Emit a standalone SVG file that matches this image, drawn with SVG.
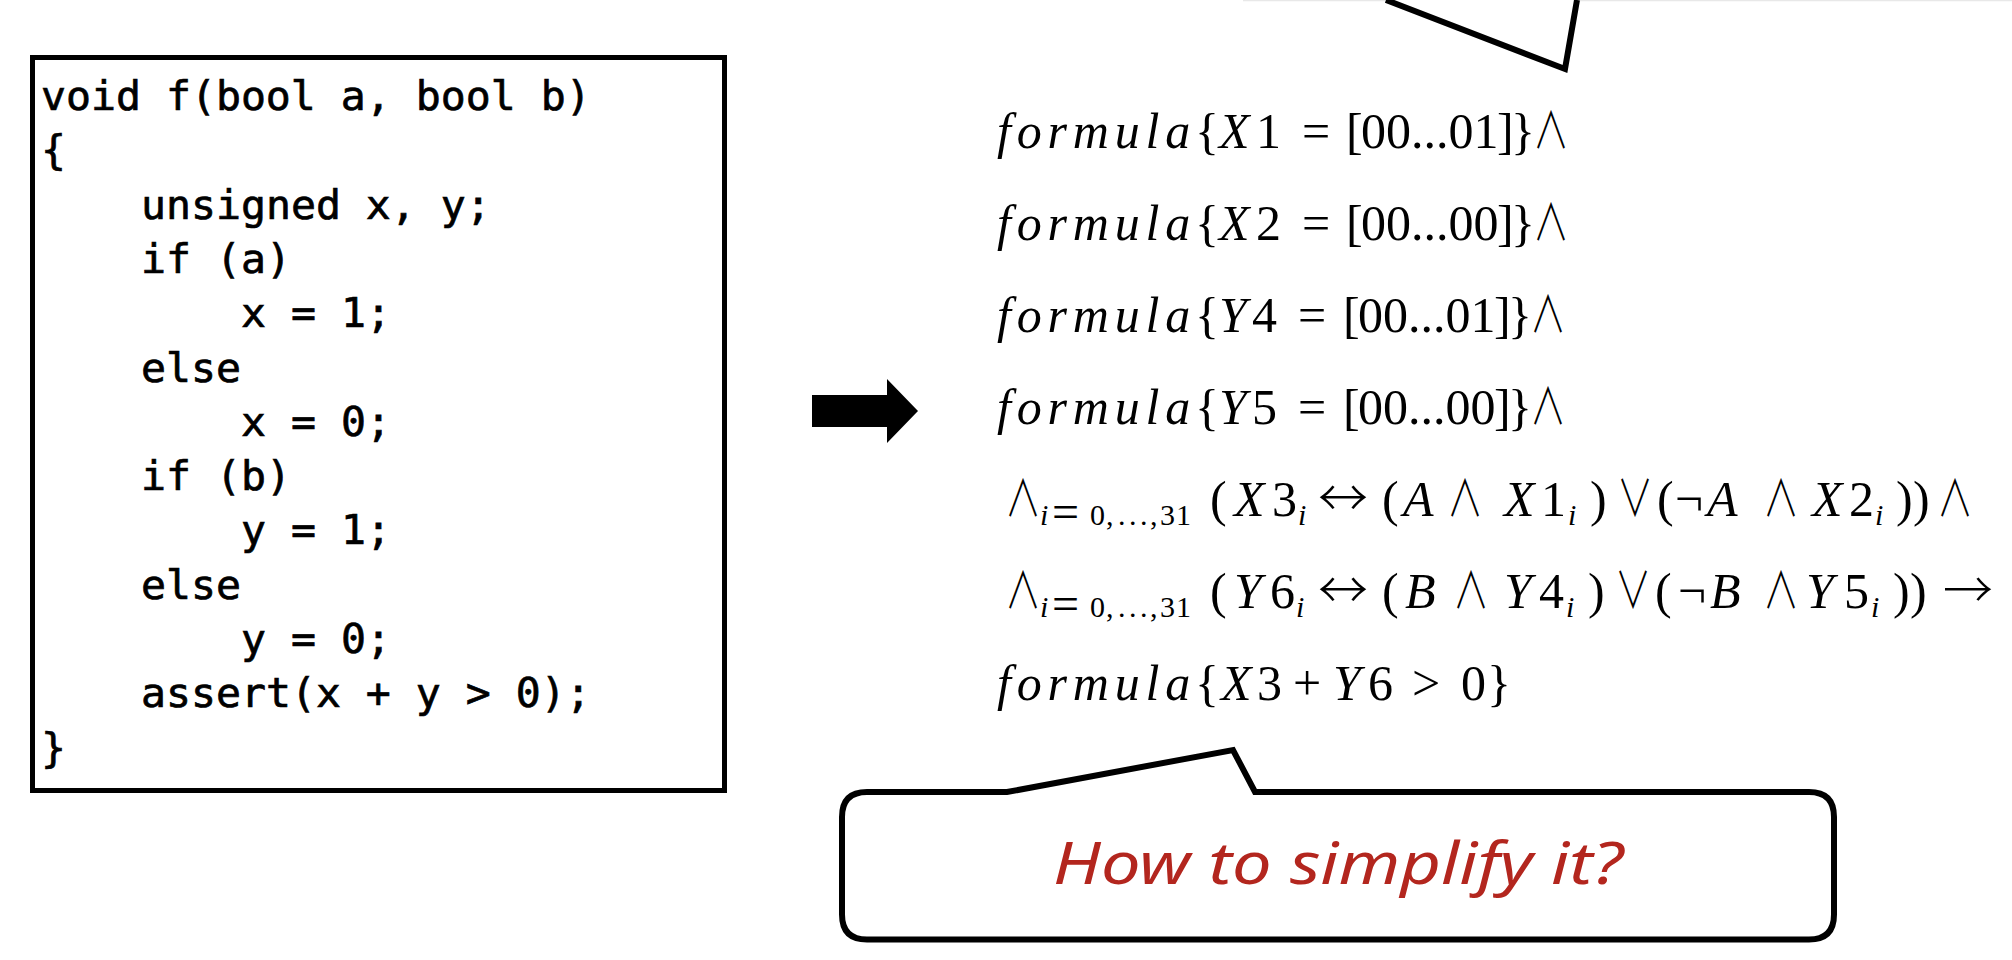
<svg xmlns="http://www.w3.org/2000/svg" width="2012" height="960" viewBox="0 0 2012 960">
<style>
.code{font-family:"DejaVu Sans Mono","Liberation Mono",monospace;font-size:41.5px;fill:#000;stroke:#000;stroke-width:0.7}
.m{font-family:"Liberation Serif","DejaVu Serif",serif;font-size:50px;fill:#000}
.it{font-style:italic}
.fm{font-style:italic;letter-spacing:5.8px}
.op{font-family:"Noto Sans CJK SC","DejaVu Sans",sans-serif;font-weight:300}
.sub{font-size:30px}
.subeq{font-size:48px}
.frame{fill:#fff;stroke:#000;stroke-width:5}
.bubble{fill:#fff;stroke:#000;stroke-width:6;stroke-linejoin:miter}
.q{font-family:"Noto Sans","DejaVu Sans",sans-serif;font-style:italic;font-size:58px;fill:#B3261E}
</style>
<rect width="2012" height="960" fill="#fff"/>

<g id="top-callout">
  <line x1="1243" y1="0.5" x2="2012" y2="0.5" stroke="#e8e8e8" stroke-width="1.5"/>
  <polyline points="1386,0 1565,69 1577,0" fill="#fff" stroke="#000" stroke-width="6"/>
</g>

<g id="code-node">
  <rect class="frame" x="32.5" y="57.5" width="692" height="733"/>
  <text class="code" x="41" y="110">void f(bool a, bool b)</text>
  <text class="code" x="41" y="164.3">{</text>
  <text class="code" x="141" y="218.6">unsigned x, y;</text>
  <text class="code" x="141" y="272.9">if (a)</text>
  <text class="code" x="241" y="327.2">x = 1;</text>
  <text class="code" x="141" y="381.5">else</text>
  <text class="code" x="241" y="435.8">x = 0;</text>
  <text class="code" x="141" y="490.1">if (b)</text>
  <text class="code" x="241" y="544.4">y = 1;</text>
  <text class="code" x="141" y="598.7">else</text>
  <text class="code" x="241" y="653">y = 0;</text>
  <text class="code" x="141" y="707.3">assert(x + y &gt; 0);</text>
  <text class="code" x="41" y="761.6">}</text>
</g>

<g id="connectors">
  <polygon points="812,395 887,395 887,379 918,411 887,443 887,427 812,427" fill="#000"/>
</g>

<g id="formula-node">
  <text class="m" y="148"><tspan class="fm" x="997">formula</tspan><tspan x="1195">{</tspan><tspan class="it" x="1219">X</tspan><tspan x="1256">1</tspan><tspan x="1302">=</tspan><tspan x="1346">[</tspan><tspan x="1361">00...01</tspan><tspan x="1497">]</tspan><tspan x="1511">}</tspan></text>
  <text class="m op" transform="translate(1533,148) scale(0.72,1)">∧</text>

  <text class="m" y="240"><tspan class="fm" x="997">formula</tspan><tspan x="1195">{</tspan><tspan class="it" x="1219">X</tspan><tspan x="1256">2</tspan><tspan x="1302">=</tspan><tspan x="1346">[</tspan><tspan x="1361">00...00</tspan><tspan x="1497">]</tspan><tspan x="1511">}</tspan></text>
  <text class="m op" transform="translate(1533,240) scale(0.72,1)">∧</text>

  <text class="m" y="332"><tspan class="fm" x="997">formula</tspan><tspan x="1195">{</tspan><tspan class="it" x="1219">Y</tspan><tspan x="1252">4</tspan><tspan x="1298">=</tspan><tspan x="1343">[</tspan><tspan x="1358">00...01</tspan><tspan x="1494">]</tspan><tspan x="1508">}</tspan></text>
  <text class="m op" transform="translate(1530,332) scale(0.72,1)">∧</text>

  <text class="m" y="424"><tspan class="fm" x="997">formula</tspan><tspan x="1195">{</tspan><tspan class="it" x="1219">Y</tspan><tspan x="1252">5</tspan><tspan x="1298">=</tspan><tspan x="1343">[</tspan><tspan x="1358">00...00</tspan><tspan x="1494">]</tspan><tspan x="1508">}</tspan></text>
  <text class="m op" transform="translate(1530,424) scale(0.72,1)">∧</text>

  <text class="m op" transform="translate(1005,516) scale(0.72,1)">∧</text>
  <text class="m" y="525"><tspan class="sub it" x="1040">i</tspan><tspan class="subeq" x="1052" y="528">=</tspan><tspan class="sub" x="1090 1106 1118 1129 1140 1150 1160 1176" y="525">0,...,31</tspan><tspan x="1210" y="516">(</tspan><tspan class="it" x="1234">X</tspan><tspan x="1272">3</tspan><tspan class="sub it" x="1298" y="525">i</tspan><tspan class="op" x="1318" y="516">↔</tspan><tspan x="1382">(</tspan><tspan class="it" x="1403">A</tspan><tspan class="it" x="1504">X</tspan><tspan x="1541">1</tspan><tspan class="sub it" x="1568" y="525">i</tspan><tspan x="1590" y="516">)</tspan><tspan x="1657">(</tspan><tspan x="1675">¬</tspan><tspan class="it" x="1707">A</tspan><tspan class="it" x="1812">X</tspan><tspan x="1849">2</tspan><tspan class="sub it" x="1875" y="525">i</tspan><tspan x="1896 1913" y="516">))</tspan></text>
  <text class="m op" transform="translate(1447,516) scale(0.72,1)">∧</text>
  <text class="m op" transform="translate(1617,516) scale(0.72,1)">∨</text>
  <text class="m op" transform="translate(1763,516) scale(0.72,1)">∧</text>
  <text class="m op" transform="translate(1937,516) scale(0.72,1)">∧</text>

  <text class="m op" transform="translate(1005,608) scale(0.72,1)">∧</text>
  <text class="m" y="617"><tspan class="sub it" x="1040">i</tspan><tspan class="subeq" x="1052" y="620">=</tspan><tspan class="sub" x="1090 1106 1118 1129 1140 1150 1160 1176" y="617">0,...,31</tspan><tspan x="1210" y="608">(</tspan><tspan class="it" x="1234">Y</tspan><tspan x="1270">6</tspan><tspan class="sub it" x="1296" y="617">i</tspan><tspan class="op" x="1318" y="608">↔</tspan><tspan x="1382">(</tspan><tspan class="it" x="1405">B</tspan><tspan class="it" x="1504">Y</tspan><tspan x="1539">4</tspan><tspan class="sub it" x="1566" y="617">i</tspan><tspan x="1588" y="608">)</tspan><tspan x="1655">(</tspan><tspan x="1678">¬</tspan><tspan class="it" x="1710">B</tspan><tspan class="it" x="1806">Y</tspan><tspan x="1844">5</tspan><tspan class="sub it" x="1871" y="617">i</tspan><tspan x="1893 1910" y="608">))</tspan><tspan class="op" x="1943">→</tspan></text>
  <text class="m op" transform="translate(1453,608) scale(0.72,1)">∧</text>
  <text class="m op" transform="translate(1615,608) scale(0.72,1)">∨</text>
  <text class="m op" transform="translate(1763,608) scale(0.72,1)">∧</text>

  <text class="m" y="700"><tspan class="fm" x="997">formula</tspan><tspan x="1195">{</tspan><tspan class="it" x="1221">X</tspan><tspan x="1257">3</tspan><tspan x="1293">+</tspan><tspan class="it" x="1333">Y</tspan><tspan x="1368">6</tspan><tspan x="1412">&gt;</tspan><tspan x="1461">0</tspan><tspan x="1487">}</tspan></text>
</g>

<g id="question-callout">
  <path class="bubble" d="M867,792 L1007,792 L1233,750 L1255,792 L1809,792 Q1834,792 1834,817 L1834,914.5 Q1834,939.5 1809,939.5 L867,939.5 Q842,939.5 842,914.5 L842,817 Q842,792 867,792 Z"/>
  <text class="q" x="1338" y="884" text-anchor="middle" textLength="570" lengthAdjust="spacingAndGlyphs">How to simplify it?</text>
</g>
</svg>
